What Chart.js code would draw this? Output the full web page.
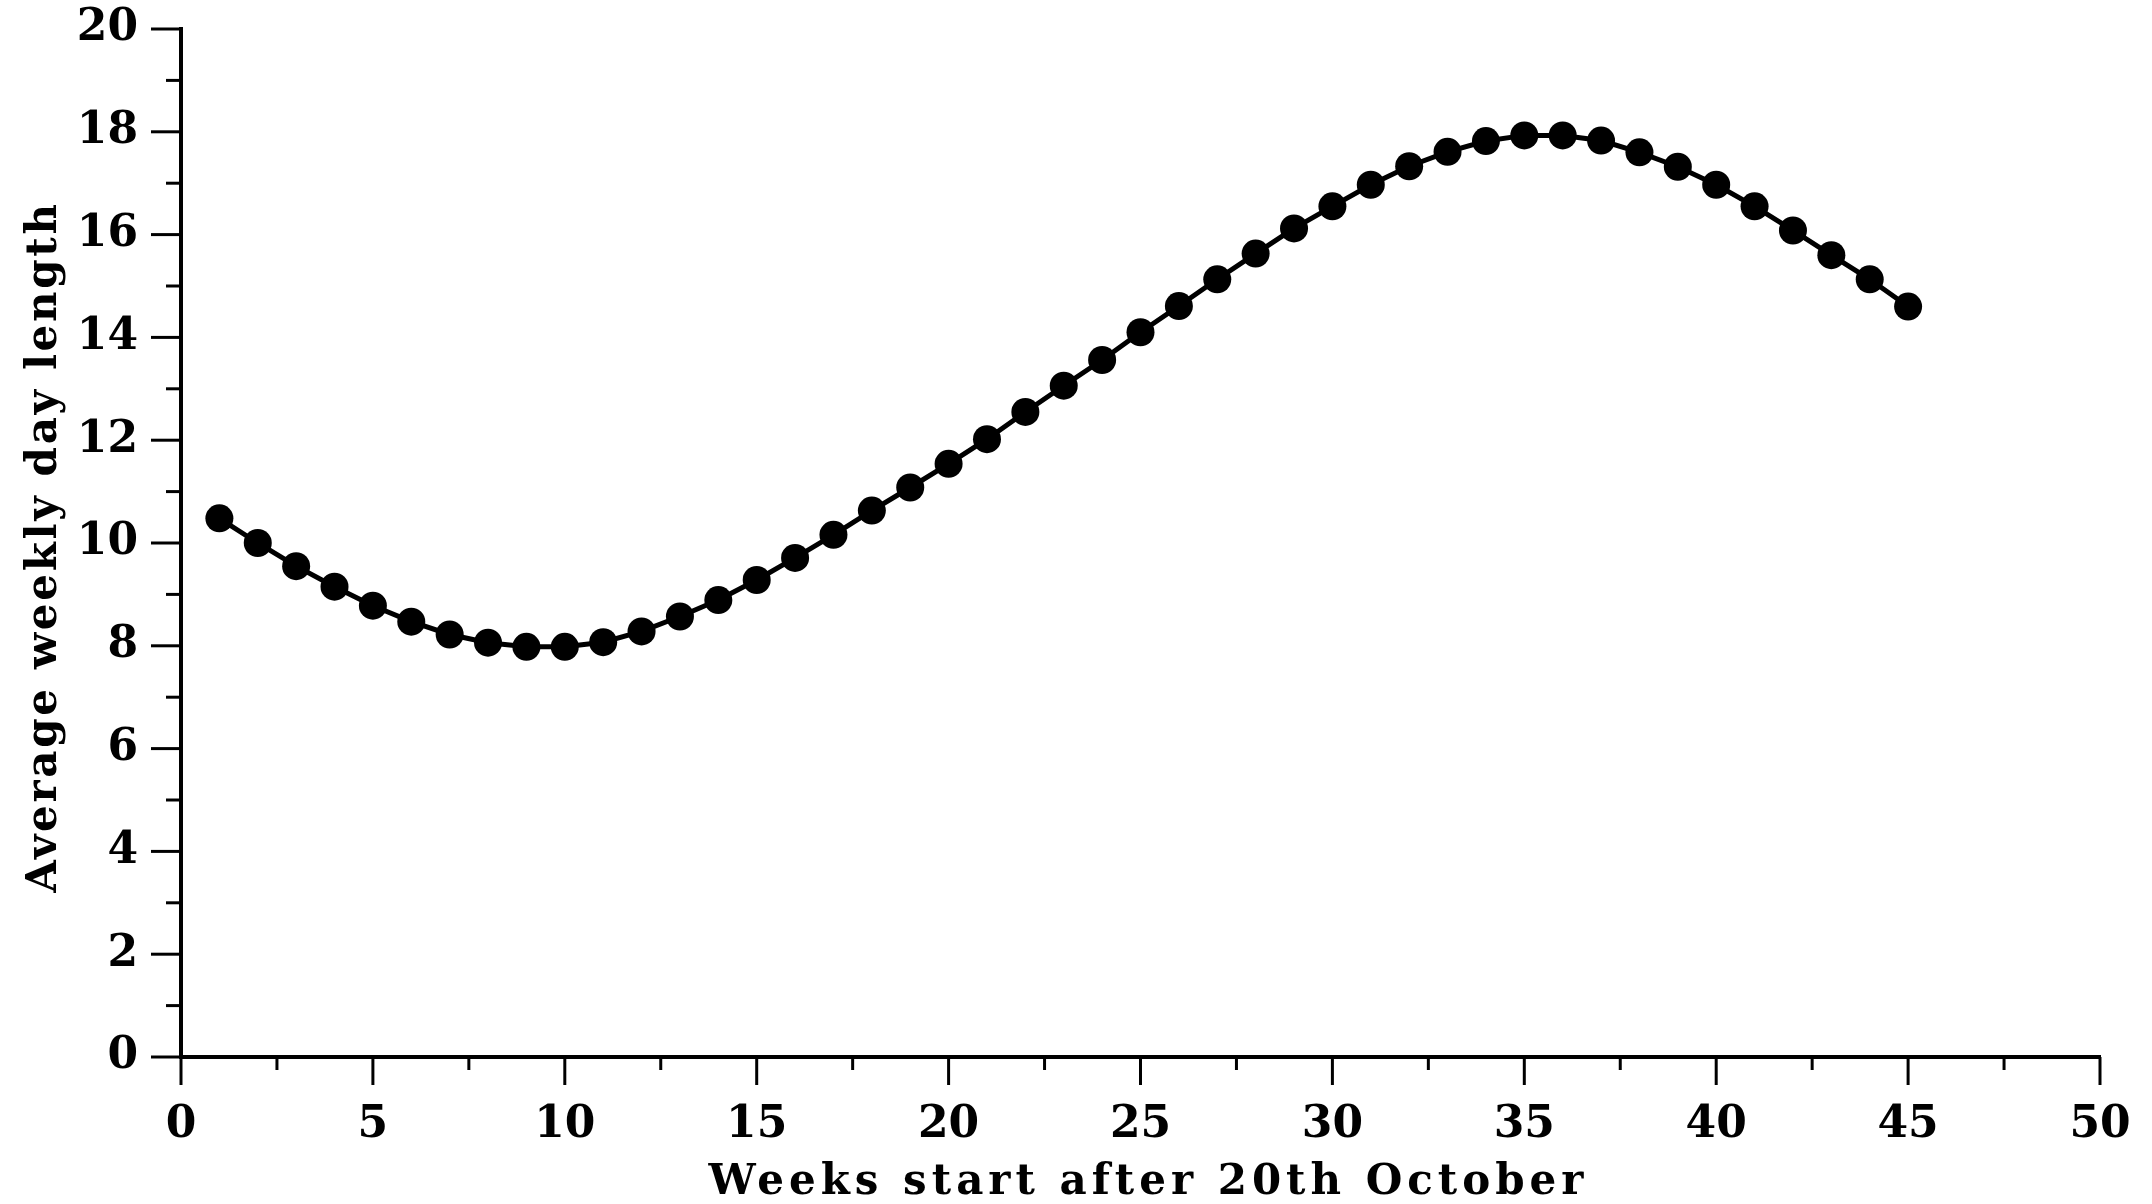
<!DOCTYPE html>
<html>
<head>
<meta charset="utf-8">
<script src="https://cdn.jsdelivr.net/npm/chart.js@4"></script>
<style>
  html, body { margin: 0; padding: 0; background: #fff; }
  #wrap { width: 2152px; height: 1204px; position: relative; }
</style>
</head>
<body>
<div id="wrap"><canvas id="chart"></canvas></div>
<script>
// week number (x) and average weekly day length in hours (y)
const weeks = [1, 2, 3, 4, 5, 6, 7, 8, 9, 10, 11, 12, 13, 14, 15, 16, 17, 18, 19, 20, 21, 22, 23,
  24, 25, 26, 27, 28, 29, 30, 31, 32, 33, 34, 35, 36, 37, 38, 39, 40, 41, 42, 43, 44, 45];
const dayLength = [10.48, 10.0, 9.55, 9.15, 8.78, 8.47, 8.22, 8.06, 7.98, 7.98, 8.07, 8.28, 8.57,
  8.89, 9.28, 9.71, 10.16, 10.63, 11.08, 11.54, 12.02, 12.55, 13.06, 13.56, 14.10, 14.61, 15.13,
  15.63, 16.12, 16.55, 16.97, 17.33, 17.61, 17.82, 17.93, 17.93, 17.83, 17.60, 17.32, 16.97,
  16.55, 16.08, 15.60, 15.13, 14.60];

const xTitle = 'Weeks start after 20th October';
const yTitle = 'Average weekly day length';

const tickFont = { family: '"DejaVu Serif"', size: 44, weight: 'bold' };
const titleFont = 'bold 42px "DejaVu Serif"';

// visible tick marks: long ones at labelled values, short ones between
const tickMarks = {
  id: 'tickMarks',
  afterDraw(chart) {
    const ctx = chart.ctx;
    const xs = chart.scales.x, ys = chart.scales.y;
    const area = chart.chartArea;
    ctx.save();
    ctx.strokeStyle = '#000';
    ctx.lineWidth = 3;
    ys.ticks.forEach(function(t) {
      const py = ys.getPixelForValue(t.value);
      const len = t.value % 2 === 0 ? 30 : 15;
      ctx.beginPath();
      ctx.moveTo(area.left - len, py);
      ctx.lineTo(area.left, py);
      ctx.stroke();
    });
    xs.ticks.forEach(function(t) {
      const px = xs.getPixelForValue(t.value);
      const len = t.value % 5 === 0 ? 28 : 13;
      ctx.beginPath();
      ctx.moveTo(px, area.bottom);
      ctx.lineTo(px, area.bottom + len);
      ctx.stroke();
    });
    ctx.restore();
  }
};

// axis titles with the wide letter spacing of the original
const axisTitles = {
  id: 'axisTitles',
  afterDraw(chart) {
    const ctx = chart.ctx;
    const area = chart.chartArea;
    ctx.save();
    ctx.fillStyle = '#000';
    ctx.font = titleFont;
    ctx.textAlign = 'center';
    ctx.textBaseline = 'alphabetic';

    ctx.letterSpacing = '5px';
    ctx.fillText(xTitle, (area.left + area.right) / 2 + 8, 1194);

    ctx.translate(56, (area.top + area.bottom) / 2 + 4);
    ctx.rotate(-Math.PI / 2);
    ctx.letterSpacing = '2.7px';
    ctx.fillText(yTitle, 0, 0);
    ctx.restore();
  }
};

const points = weeks.map(function(w, i) { return { x: w, y: dayLength[i] }; });

new Chart(document.getElementById('chart'), {
  type: 'line',
  data: {
    datasets: [{
      data: points,
      borderColor: '#000',
      backgroundColor: '#000',
      borderWidth: 5,
      pointRadius: 14,
      pointHoverRadius: 14,
      pointBackgroundColor: '#000',
      pointBorderWidth: 0,
      tension: 0,
      fill: false
    }]
  },
  options: {
    responsive: true,
    maintainAspectRatio: false,
    animation: false,
    layout: { padding: { top: 29, right: 52, left: 0, bottom: 0 } },
    plugins: { legend: { display: false }, tooltip: { enabled: false } },
    scales: {
      x: {
        type: 'linear',
        min: 0, max: 50,
        border: { display: true, color: '#000', width: 4 },
        // invisible tick length only sets the label offset; marks come from the plugin
        grid: { display: true, drawOnChartArea: false, drawTicks: true, tickLength: 42, tickColor: 'rgba(0,0,0,0)' },
        ticks: {
          stepSize: 2.5,
          autoSkip: false,
          maxRotation: 0,
          padding: 0,
          color: '#000',
          font: tickFont,
          callback: function(v) { return v % 5 === 0 ? String(v) : ''; }
        },
        afterFit: function(scale) { scale.height = 147; }
      },
      y: {
        min: 0, max: 20,
        border: { display: true, color: '#000', width: 4 },
        grid: { display: true, drawOnChartArea: false, drawTicks: true, tickLength: 43, tickColor: 'rgba(0,0,0,0)' },
        ticks: {
          stepSize: 1,
          autoSkip: false,
          padding: 0,
          color: '#000',
          font: tickFont,
          callback: function(v) { return v % 2 === 0 ? String(v) : ''; }
        },
        afterFit: function(scale) { scale.width = 181; }
      }
    }
  },
  plugins: [tickMarks, axisTitles]
});
</script>
</body>
</html>
